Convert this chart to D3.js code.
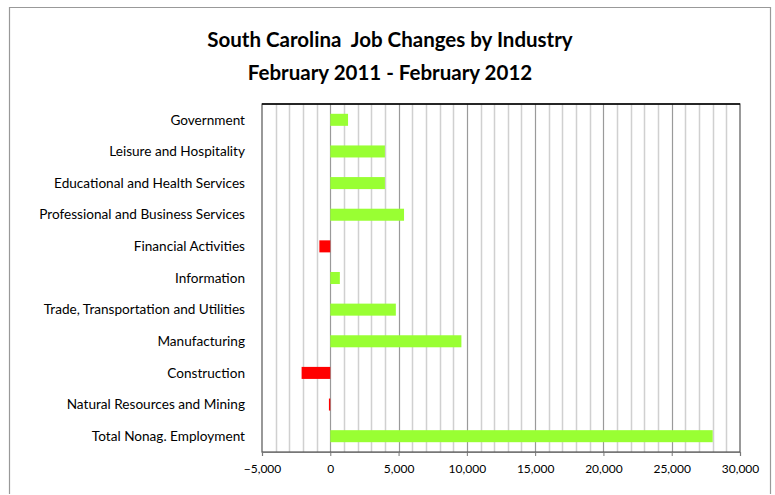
<!DOCTYPE html>
<html><head><meta charset="utf-8">
<script src="https://cdn.jsdelivr.net/npm/d3@7/dist/d3.min.js"></script>
<style>body{margin:0;background:#fff}svg{display:block}</style>
</head><body>
<svg id="chart" width="775" height="495"></svg>
<script>
const categories = [
  "Government",
  "Leisure and Hospitality",
  "Educational and Health Services",
  "Professional and Business Services",
  "Financial Activities",
  "Information",
  "Trade, Transportation and Utilities",
  "Manufacturing",
  "Construction",
  "Natural Resources and Mining",
  "Total Nonag. Employment"
];
const jobChanges = [1300, 4000, 4000, 5400, -800, 700, 4800, 9600, -2100, -100, 28000];
const tickValues = [-5000, 0, 5000, 10000, 15000, 20000, 25000, 30000];
const titleLines = ["South Carolina  Job Changes by Industry", "February 2011 - February 2012"];

const svg = d3.select("#chart");
const font = "Lato, 'Open Sans', sans-serif";
const m = {left: 262, right: 740, top: 104, bottom: 452};

// outer frame
svg.append("path").attr("d", "M9.5,494 V7.5 H770.5 V494")
  .attr("fill", "none").attr("stroke", "#999").attr("stroke-width", 1.2);

const x = d3.scaleLinear().domain([-5000, 30000]).range([m.left, m.right]);
const y = d3.scaleBand().domain(categories).range([m.top, m.bottom]).paddingInner(0.62).paddingOuter(0.31);

// gridlines
const minor = d3.range(-4000, 30000, 1000).filter(v => v % 5000 !== 0);
svg.append("g").selectAll("line").data(minor).join("line")
  .attr("x1", d => Math.round(x(d)) + 0.5).attr("x2", d => Math.round(x(d)) + 0.5)
  .attr("y1", m.top).attr("y2", m.bottom)
  .attr("stroke", "#d0d0d0").attr("stroke-width", 1.5);
svg.append("g").selectAll("line").data(tickValues.filter(v => v > -5000 && v < 30000)).join("line")
  .attr("x1", d => Math.round(x(d)) + 0.5).attr("x2", d => Math.round(x(d)) + 0.5)
  .attr("y1", m.top).attr("y2", m.bottom)
  .attr("stroke", "#9a9a9a").attr("stroke-width", 1.2);

// plot border
svg.append("rect").attr("x", m.left).attr("y", m.top)
  .attr("width", m.right - m.left).attr("height", m.bottom - m.top)
  .attr("fill", "none").attr("stroke", "#555").attr("stroke-width", 1.2);
svg.append("line").attr("x1", m.left).attr("x2", m.right).attr("y1", m.top).attr("y2", m.top)
  .attr("stroke", "#000").attr("stroke-width", 1.5);

// bars
svg.append("g").selectAll("rect").data(jobChanges).join("rect")
  .attr("x", d => x(Math.min(0, d)))
  .attr("width", d => Math.abs(x(d) - x(0)))
  .attr("y", (d, i) => y(categories[i]))
  .attr("height", y.bandwidth())
  .attr("fill", d => d < 0 ? "#ff0000" : "#99ff33");

// x axis
const xAxis = d3.axisBottom(x).tickValues(tickValues).tickSize(4).tickPadding(8)
  .tickFormat(d3.format(","));
const gx = svg.append("g").attr("transform", `translate(0,${m.bottom})`).call(xAxis);
gx.select(".domain").attr("stroke", "#777").attr("stroke-width", 1.2);
gx.selectAll(".tick line").attr("stroke", "#777");
gx.selectAll("text").attr("font-family", font).attr("font-size", 12).attr("fill", "#000");

// category labels
svg.append("g").selectAll("text").data(categories).join("text")
  .attr("x", 245).attr("y", d => y(d) + y.bandwidth() / 2)
  .attr("dy", "0.35em").attr("text-anchor", "end")
  .attr("font-family", font).attr("font-size", 13.6).attr("fill", "#000")
  .text(d => d);

// title
svg.append("g").selectAll("text").data(titleLines).join("text")
  .attr("x", 390).attr("y", (d, i) => 47 + i * 33)
  .attr("text-anchor", "middle").attr("font-family", font)
  .style("white-space", "pre")
  .attr("font-weight", "bold").attr("font-size", 20.5).attr("fill", "#000")
  .text(d => d);
</script>
</body></html>
